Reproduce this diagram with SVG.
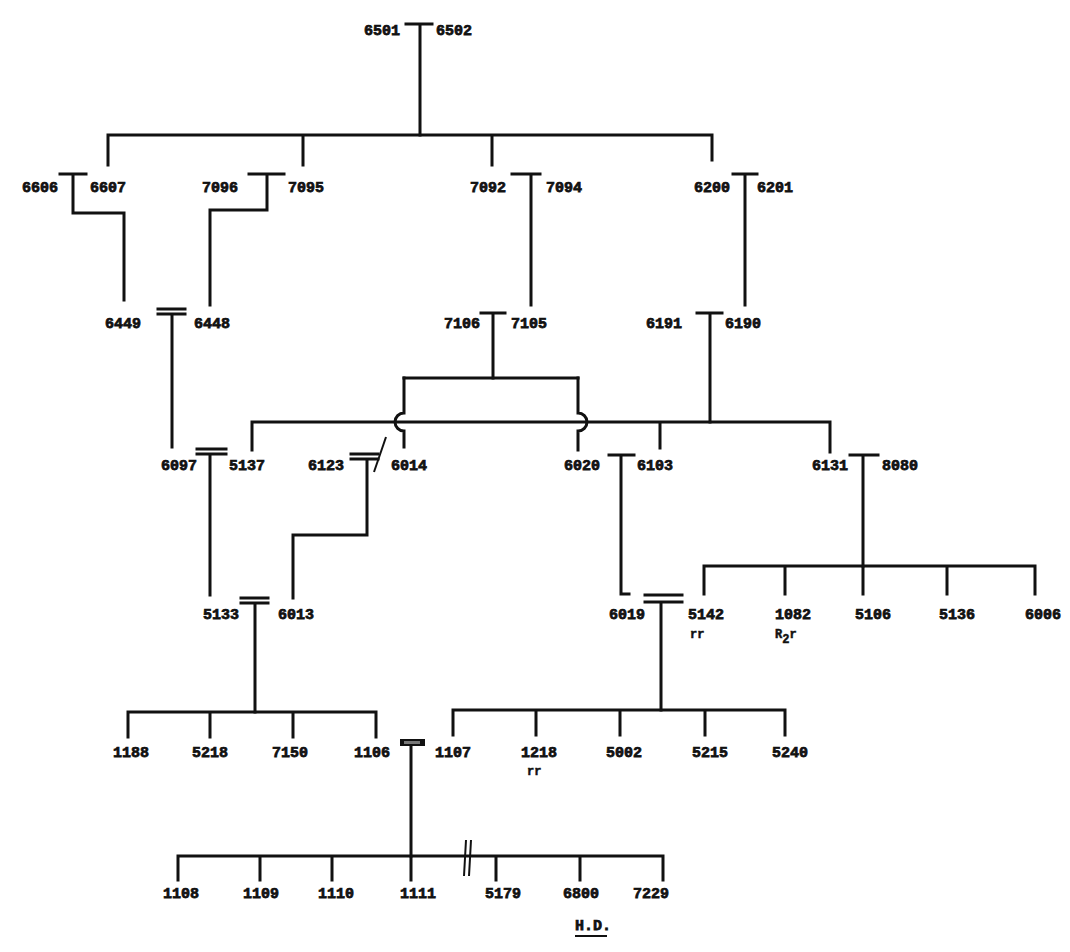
<svg xmlns="http://www.w3.org/2000/svg" width="1070" height="952" viewBox="0 0 1070 952">
<style>
  .lbl{font-family:"Liberation Mono","DejaVu Sans Mono",monospace;font-weight:bold;font-size:15px;fill:#111;stroke:#111;stroke-width:0.75}
  .sm{font-family:"Liberation Mono","DejaVu Sans Mono",monospace;font-weight:bold;font-size:12px;fill:#111;stroke:#111;stroke-width:0.5}
  .ln{fill:none;stroke:#111;stroke-width:3;stroke-linecap:square}
  .thin{fill:none;stroke:#111;stroke-width:2}
</style>
<rect width="1070" height="952" fill="#fff"/>
<g id="connectors">
  <path class="ln" d="M406 24H432M420 24V135"/>
  <path class="ln" d="M108 135H712M108 135V165M303 135V165M492 135V165M712 135V160"/>
  <path class="ln" d="M60 174H86M73 174V213H124V300"/>
  <path class="ln" d="M249 174H284M267 174V210H210V305"/>
  <path class="ln" d="M512 174H540M531 174V305"/>
  <path class="ln" d="M733 174H757M745 174V305"/>
  <path class="ln" d="M158 309H185M158 314H185M172 314V447"/>
  <path class="ln" d="M481 313H505M493 313V378"/>
  <path class="ln" d="M404 378H578"/>
  <path class="ln" d="M404 378V413A9 9 0 0 0 404 431V447"/>
  <path class="ln" d="M578 378V413A9 9 0 0 1 578 431V450"/>
  <path class="ln" d="M697 313H722M710 313V422"/>
  <path class="ln" d="M252 422H830M252 422V450M660 422V448M830 422V452"/>
  <path class="ln" d="M197 449H226M197 454H226M210 454V595"/>
  <path class="ln" d="M351 454H378M351 459H378M367 459V535H293V598"/>
  <path class="thin" d="M374 472L386 437"/>
  <path class="ln" d="M609 455H634M621 455V594H629"/>
  <path class="ln" d="M850 455H878M863 455V566"/>
  <path class="ln" d="M704 566H1035M704 566V594M785 566V594M863 566V594M947 566V594M1035 566V594"/>
  <path class="ln" d="M241 598H268M241 603H268M255 603V712"/>
  <path class="ln" d="M128 712H376M128 712V737M210 712V737M293 712V737M376 712V737"/>
  <path class="ln" d="M645 595H682M645 602H682M661 602V710"/>
  <path class="ln" d="M453 710H785M453 710V735M536 710V735M620 710V735M705 710V735M785 710V735"/>
  <rect x="400" y="739" width="25" height="7" fill="#111"/>
  <rect x="404" y="741" width="16" height="3" fill="#777"/>
  <path class="ln" d="M411 746V856"/>
  <path class="ln" d="M178 856H663M178 856V880M260 856V880M332 856V880M411 856V880M496 856V880M580 856V880M663 856V880"/>
  <path class="thin" d="M464 876L466 840M469 876L471 840"/>
</g>
<g id="n6501"><text class="lbl" x="400" y="35" text-anchor="end">6501</text></g>
<g id="n6502"><text class="lbl" x="436" y="35">6502</text></g>
<g id="n6606"><text class="lbl" x="58" y="192" text-anchor="end">6606</text></g>
<g id="n6607"><text class="lbl" x="90" y="192">6607</text></g>
<g id="n7096"><text class="lbl" x="238" y="192" text-anchor="end">7096</text></g>
<g id="n7095"><text class="lbl" x="288" y="192">7095</text></g>
<g id="n7092"><text class="lbl" x="506" y="192" text-anchor="end">7092</text></g>
<g id="n7094"><text class="lbl" x="546" y="192">7094</text></g>
<g id="n6200"><text class="lbl" x="730" y="192" text-anchor="end">6200</text></g>
<g id="n6201"><text class="lbl" x="757" y="192">6201</text></g>
<g id="n6449"><text class="lbl" x="141" y="328" text-anchor="end">6449</text></g>
<g id="n6448"><text class="lbl" x="194" y="328">6448</text></g>
<g id="n7106"><text class="lbl" x="480" y="328" text-anchor="end">7106</text></g>
<g id="n7105"><text class="lbl" x="511" y="328">7105</text></g>
<g id="n6191"><text class="lbl" x="682" y="328" text-anchor="end">6191</text></g>
<g id="n6190"><text class="lbl" x="725" y="328">6190</text></g>
<g id="n6097"><text class="lbl" x="197" y="470" text-anchor="end">6097</text></g>
<g id="n5137"><text class="lbl" x="229" y="470">5137</text></g>
<g id="n6123"><text class="lbl" x="344" y="470" text-anchor="end">6123</text></g>
<g id="n6014"><text class="lbl" x="391" y="470">6014</text></g>
<g id="n6020"><text class="lbl" x="600" y="470" text-anchor="end">6020</text></g>
<g id="n6103"><text class="lbl" x="637" y="470">6103</text></g>
<g id="n6131"><text class="lbl" x="848" y="470" text-anchor="end">6131</text></g>
<g id="n8080"><text class="lbl" x="882" y="470">8080</text></g>
<g id="n5133"><text class="lbl" x="239" y="619" text-anchor="end">5133</text></g>
<g id="n6013"><text class="lbl" x="278" y="619">6013</text></g>
<g id="n6019"><text class="lbl" x="645" y="619" text-anchor="end">6019</text></g>
<g id="n5142"><text class="lbl" x="688" y="619">5142</text><text class="sm" x="690" y="638">rr</text></g>
<g id="n1082"><text class="lbl" x="775" y="619">1082</text><text class="sm" x="775" y="638">R<tspan dy="5">2</tspan><tspan dy="-5">r</tspan></text></g>
<g id="n5106"><text class="lbl" x="855" y="619">5106</text></g>
<g id="n5136"><text class="lbl" x="939" y="619">5136</text></g>
<g id="n6006"><text class="lbl" x="1025" y="619">6006</text></g>
<g id="n1188"><text class="lbl" x="113" y="757">1188</text></g>
<g id="n5218"><text class="lbl" x="192" y="757">5218</text></g>
<g id="n7150"><text class="lbl" x="272" y="757">7150</text></g>
<g id="n1106"><text class="lbl" x="354" y="757">1106</text></g>
<g id="n1107"><text class="lbl" x="435" y="757">1107</text></g>
<g id="n1218"><text class="lbl" x="521" y="757">1218</text><text class="sm" x="527" y="775">rr</text></g>
<g id="n5002"><text class="lbl" x="606" y="757">5002</text></g>
<g id="n5215"><text class="lbl" x="692" y="757">5215</text></g>
<g id="n5240"><text class="lbl" x="772" y="757">5240</text></g>
<g id="n1108"><text class="lbl" x="163" y="898">1108</text></g>
<g id="n1109"><text class="lbl" x="243" y="898">1109</text></g>
<g id="n1110"><text class="lbl" x="318" y="898">1110</text></g>
<g id="n1111"><text class="lbl" x="400" y="898">1111</text></g>
<g id="n5179"><text class="lbl" x="485" y="898">5179</text></g>
<g id="n6800"><text class="lbl" x="563" y="898">6800</text></g>
<g id="n7229"><text class="lbl" x="633" y="898">7229</text></g>
<g id="hd"><text class="lbl" x="575" y="930">H.D.</text><path class="thin" d="M575 936H607"/></g>
</svg>
